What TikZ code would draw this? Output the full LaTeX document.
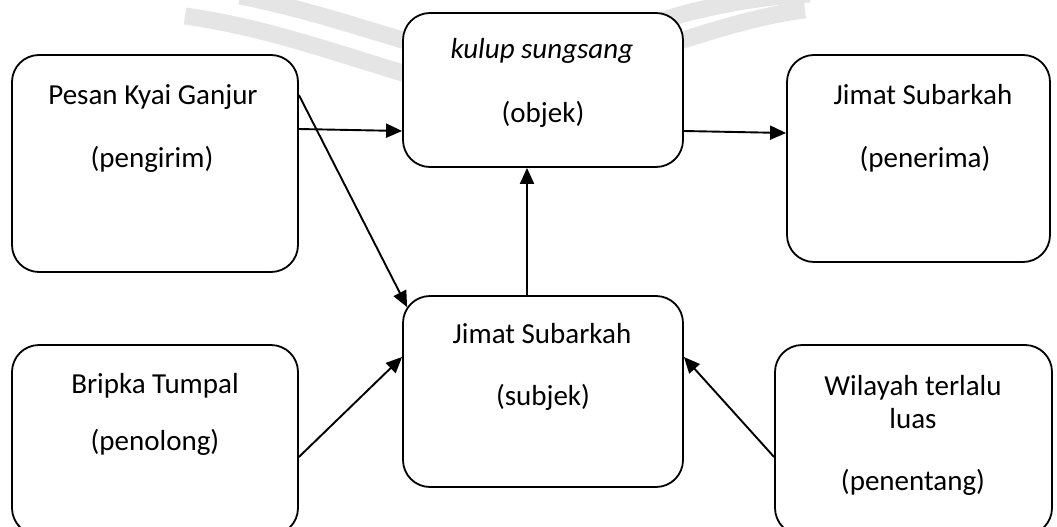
\documentclass[tikz,border=0pt]{standalone}
\usepackage{fontspec}
\setmainfont{Carlito}
\usetikzlibrary{arrows.meta,calc}
\begin{document}
\begin{tikzpicture}[x=1pt,y=-1pt,
  box/.style={draw=black, fill=white, line width=1.8pt, rounded corners=27pt, inner sep=0pt},
  lbl/.style={anchor=base, inner sep=0pt, font=\fontsize{29}{35}\selectfont},
  link/.style={line width=1.9pt, -{Triangle[length=16pt,width=14pt]}},
  band/.style={draw=black!10, line width=17pt}]
\useasboundingbox (0,0) rectangle (1057,527);
\clip (0,0) rectangle (1057,527);

% faint wave bands in the background
\draw[band] (185,16) .. controls (270,28) and (340,55) .. (420,78) .. controls (520,100) and (600,70) .. (683,40) .. controls (730,25) and (770,14) .. (805,10);
\draw[band] (240,-4) .. controls (310,10) and (360,28) .. (420,45) .. controls (520,70) and (600,40) .. (683,14) .. controls (730,2) and (770,-4) .. (810,-6);

% boxes
\node[box, minimum width=286pt, minimum height=217pt] (A) at (155,163.5) {};
\node[box, minimum width=280pt, minimum height=154pt] (obj) at (543,90) {};
\node[box, minimum width=263pt, minimum height=207pt] (pen) at (918.5,158.5) {};
\node[box, minimum width=280pt, minimum height=191pt] (subj) at (543,391.5) {};
\node[box, minimum width=286pt, minimum height=190pt] (B) at (155,440) {};
\node[box, minimum width=277pt, minimum height=190pt] (W) at (913.5,440) {};

% labels
\node[lbl] (tA1) at (153,104) {Pesan Kyai Ganjur};
\node[lbl] (tA2) at (152,167) {(pengirim)};
\node[lbl] (tO1) at (542,59) {\itshape kulup sungsang};
\node[lbl] (tO2) at (543,122) {(objek)};
\node[lbl] (tP1) at (923,104) {Jimat Subarkah};
\node[lbl] (tP2) at (925,167) {(penerima)};
\node[lbl] (tS1) at (542,343) {Jimat Subarkah};
\node[lbl] (tS2) at (543,405) {(subjek)};
\node[lbl] (tB1) at (155,393) {Bripka Tumpal};
\node[lbl] (tB2) at (155,450) {(penolong)};
\node[lbl] (tW1) at (913,395) {Wilayah terlalu};
\node[lbl] (tW2) at (913,428) {luas};
\node[lbl] (tW3) at (913,490) {(penentang)};

% connectors
\draw[link] (A.east |- 0,129) -- (obj.west |- 0,131);
\draw[link] (obj.east |- 0,131) -- (pen.west |- 0,133);
\draw[link] (A.east |- 0,95) -- ($(subj.north west)+(5,12)$);
\draw[link] (subj.north -| 527,0) -- (obj.south -| 527,0);
\draw[link] (B.east |- 0,457) -- (subj.west |- 0,357);
\draw[link] (W.west |- 0,457) -- (subj.east |- 0,357);
\end{tikzpicture}
\end{document}
